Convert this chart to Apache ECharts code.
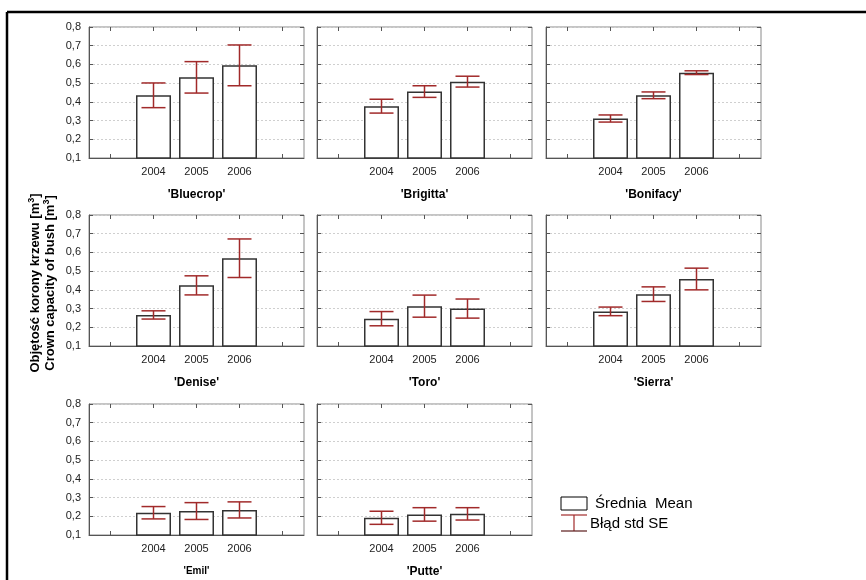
<!DOCTYPE html>
<html>
<head>
<meta charset="utf-8">
<script src="https://cdn.jsdelivr.net/npm/echarts@6/dist/echarts.min.js"></script>
<style>
  html, body { margin: 0; padding: 0; background: #ffffff; }
  #chart { width: 866px; height: 580px; }
</style>
</head>
<body>
<div id="chart"></div>
<script>
// Category slots: one empty slot on each side of the three years
const years = ['', '2004', '2005', '2006', ''];
const yTicks = [0.1, 0.2, 0.3, 0.4, 0.5, 0.6, 0.7, 0.8];

const cultivars = ["'Bluecrop'", "'Brigitta'", "'Bonifacy'", "'Denise'", "'Toro'", "'Sierra'", "'Emil'", "'Putte'"];

// Mean crown capacity [m3] for 2004, 2005, 2006
const meanBluecrop = [0.435, 0.531, 0.595];
const meanBrigitta = [0.377, 0.455, 0.508];
const meanBonifacy = [0.311, 0.435, 0.556];
const meanDenise   = [0.266, 0.424, 0.569];
const meanToro     = [0.246, 0.313, 0.300];
const meanSierra   = [0.285, 0.377, 0.458];
const meanEmil     = [0.219, 0.228, 0.234];
const meanPutte    = [0.192, 0.210, 0.213];

// Standard error for 2004, 2005, 2006
const seBluecrop = [0.066, 0.084, 0.109];
const seBrigitta = [0.037, 0.031, 0.029];
const seBonifacy = [0.019, 0.018, 0.010];
const seDenise   = [0.022, 0.051, 0.103];
const seToro     = [0.038, 0.059, 0.051];
const seSierra   = [0.023, 0.039, 0.058];
const seEmil     = [0.033, 0.045, 0.043];
const sePutte    = [0.035, 0.036, 0.033];

const means = [meanBluecrop, meanBrigitta, meanBonifacy, meanDenise, meanToro, meanSierra, meanEmil, meanPutte];
const errors = [seBluecrop, seBrigitta, seBonifacy, seDenise, seToro, seSierra, seEmil, sePutte];

const FONT = 'Liberation Sans, Arial, sans-serif';
const ERR_COLOR = '#a12a2a';
const colLeft = [89, 317, 546];
const rowTop = [27, 215, 404];
const panelW = 215, panelH = 131;

const grids = [], xAxes = [], yAxes = [], series = [];

cultivars.forEach((name, i) => {
  const row = Math.floor(i / 3), col = i % 3;
  grids.push({
    left: colLeft[col], top: rowTop[row], width: panelW, height: panelH,
    containLabel: false, outerBoundsMode: 'none',
    show: true, borderColor: '#8a8a8a', borderWidth: 1, backgroundColor: 'transparent'
  });
  // bottom axis with year labels and cultivar name
  xAxes.push({
    type: 'category', gridIndex: i, data: years, position: 'bottom',
    axisLine: { show: true, lineStyle: { color: '#555', width: 1 } },
    axisTick: { show: true, inside: true, alignWithLabel: true, length: 4, lineStyle: { color: '#555' } },
    axisLabel: { show: true, interval: 0, color: '#222', fontFamily: FONT, fontSize: 11, margin: 8 },
    name: name, nameLocation: 'middle', nameGap: 31,
    nameTextStyle: { fontFamily: FONT, fontWeight: 'bold', fontSize: name === "'Emil'" ? 10 : 12, color: '#000' }
  });
  // top mirror axis: tick marks only
  xAxes.push({
    type: 'category', gridIndex: i, data: years, position: 'top',
    axisLine: { show: false },
    axisTick: { show: true, inside: true, alignWithLabel: true, length: 4, lineStyle: { color: '#555' } },
    axisLabel: { show: false }
  });
  yAxes.push({
    type: 'value', gridIndex: i, min: 0.1, max: 0.8, interval: 0.1, position: 'left',
    axisLine: { show: true, lineStyle: { color: '#555', width: 1 } },
    axisTick: { show: true, inside: true, length: 4, lineStyle: { color: '#555' } },
    axisLabel: {
      show: col === 0, color: '#222', fontFamily: FONT, fontSize: 11, margin: 8,
      formatter: v => v.toFixed(1).replace('.', ',')
    },
    splitLine: { show: true, lineStyle: { color: '#cfcfcf', type: [2, 2], width: 1 } }
  });
  yAxes.push({
    type: 'value', gridIndex: i, min: 0.1, max: 0.8, interval: 0.1, position: 'right',
    axisLine: { show: false },
    axisTick: { show: true, inside: true, length: 4, lineStyle: { color: '#555' } },
    axisLabel: { show: false },
    splitLine: { show: false }
  });

  const m = means[i], e = errors[i];
  series.push({
    type: 'bar', xAxisIndex: 2 * i, yAxisIndex: 2 * i,
    data: ['-', m[0], m[1], m[2], '-'],
    barWidth: 35,
    itemStyle: { color: '#ffffff', borderColor: '#333', borderWidth: 1.5 },
    silent: true, animation: false
  });
  series.push({
    type: 'custom', xAxisIndex: 2 * i, yAxisIndex: 2 * i,
    data: m.map((v, k) => [k + 1, v - e[k], v + e[k]]),
    renderItem: (params, api) => {
      const lo = api.coord([api.value(0), api.value(1)]);
      const hi = api.coord([api.value(0), api.value(2)]);
      const hw = 12;
      const st = { stroke: ERR_COLOR, lineWidth: 1.5 };
      return {
        type: 'group',
        children: [
          { type: 'line', shape: { x1: lo[0], y1: lo[1], x2: hi[0], y2: hi[1] }, style: st },
          { type: 'line', shape: { x1: hi[0] - hw, y1: hi[1], x2: hi[0] + hw, y2: hi[1] }, style: st },
          { type: 'line', shape: { x1: lo[0] - hw, y1: lo[1], x2: lo[0] + hw, y2: lo[1] }, style: st }
        ]
      };
    },
    z: 5, silent: true, animation: false
  });
});

const titleRich = {
  t: { fontFamily: FONT, fontWeight: 'bold', fontSize: 13, color: '#000' },
  s: { fontFamily: FONT, fontWeight: 'bold', fontSize: 9, color: '#000', verticalAlign: 'top', padding: [0, 0, 6, 0] }
};

const chart = echarts.init(document.getElementById('chart'), null, { renderer: 'canvas' });
chart.setOption({
  backgroundColor: '#ffffff',
  animation: false,
  grid: grids,
  xAxis: xAxes,
  yAxis: yAxes,
  series: series,
  graphic: [
    // outer frame (top and left edges)
    { type: 'line', shape: { x1: 7, y1: 12, x2: 866, y2: 12 }, style: { stroke: '#000', lineWidth: 2.5 } },
    { type: 'line', shape: { x1: 7, y1: 12, x2: 7, y2: 580 }, style: { stroke: '#000', lineWidth: 2.5 } },
    // shared y-axis title, two lines
    {
      type: 'text', x: 35, y: 283, rotation: Math.PI / 2,
      style: { text: '{t|Objętość korony krzewu [m}{s|3}{t|]}', rich: titleRich, align: 'center', verticalAlign: 'middle' }
    },
    {
      type: 'text', x: 50, y: 283, rotation: Math.PI / 2,
      style: { text: '{t|Crown capacity of bush [m}{s|3}{t|]}', rich: titleRich, align: 'center', verticalAlign: 'middle' }
    },
    // key
    { type: 'rect', shape: { x: 561, y: 497, width: 26, height: 13 }, style: { fill: '#fff', stroke: '#000', lineWidth: 1 } },
    { type: 'text', x: 595, y: 504, style: { text: 'Średnia  Mean', fontFamily: FONT, fontSize: 15, fill: '#000', verticalAlign: 'middle' } },
    { type: 'line', shape: { x1: 561, y1: 515, x2: 587, y2: 515 }, style: { stroke: ERR_COLOR, lineWidth: 1.2 } },
    { type: 'line', shape: { x1: 574, y1: 515, x2: 574, y2: 531 }, style: { stroke: ERR_COLOR, lineWidth: 1.2 } },
    { type: 'line', shape: { x1: 561, y1: 531, x2: 587, y2: 531 }, style: { stroke: '#5a1a1a', lineWidth: 1.2 } },
    { type: 'text', x: 590, y: 524, style: { text: 'Błąd std SE', fontFamily: FONT, fontSize: 15, fill: '#000', verticalAlign: 'middle' } }
  ]
});
</script>
</body>
</html>
